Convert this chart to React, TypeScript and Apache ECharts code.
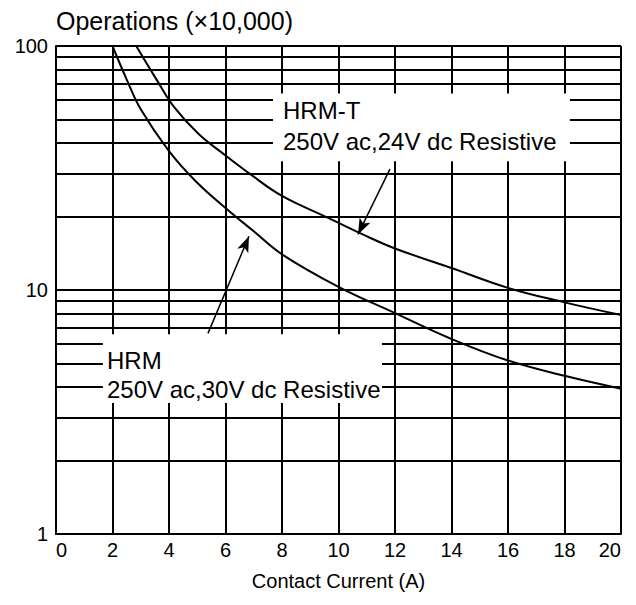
import React, { useEffect, useRef } from "react";
import * as echarts from "echarts";

// Contact current (A) vs. operations (x10,000)
const hrmCurrent = [2.0, 2.5, 3, 4, 5, 6, 7, 8, 10, 12, 14, 16, 18, 20];
const hrmOps = [100, 73, 55, 37.1, 27.5, 21.7, 17.4, 14.0, 10.3, 8.04, 6.3, 5.14, 4.45, 3.94];

const hrmtCurrent = [2.84, 3.56, 4.19, 5.06, 6, 6.85, 8, 9.62, 10.86, 12, 14, 16, 18, 20];
const hrmtOps = [100, 72.8, 56, 43.5, 35.6, 30.0, 24.3, 19.8, 16.9, 14.8, 12.3, 10.2, 8.9, 7.9];

// Log-scale minor grid values
const minorGridOps = [2, 3, 4, 5, 6, 7, 8, 9, 20, 30, 40, 50, 60, 70, 80, 90];

// Label boxes (data coords: [current, ops])
const upperBox = [[7.68, 63.8], [18.19, 33.7]];
const lowerBox = [[1.66, 6.58], [11.54, 3.44]];

// Arrows (tail -> tip)
const upperArrow = [[11.82, 31.3], [10.69, 16.9]];
const lowerArrow = [[5.38, 6.64], [6.83, 16.6]];

const hrmtLabel = ["HRM-T", "250V ac,24V dc Resistive"];
const hrmLabel = ["HRM", "250V ac,30V dc Resistive"];

const FONT = '"Liberation Sans", Arial, sans-serif';

export default function App() {
  const ref = useRef<HTMLDivElement>(null);

  useEffect(() => {
    document.body.style.margin = "0";
    if (!ref.current) return;
    const chart = echarts.init(ref.current, null, { renderer: "svg" });
    const black = "#000";
    const textBase = { fill: black, fontSize: 24, fontFamily: FONT, verticalAlign: "middle" as const };

    chart.setOption({
      animation: false,
      backgroundColor: "#fff",
      title: {
        text: "Operations (×10,000)",
        left: 56,
        top: 8,
        padding: 0,
        textStyle: { fontSize: 25, fontWeight: "normal", color: black, fontFamily: FONT },
      },
      grid: { left: 56, right: 15, top: 46, bottom: 71 },
      xAxis: {
        type: "value",
        min: 0,
        max: 20,
        interval: 2,
        name: "Contact Current (A)",
        nameLocation: "middle",
        nameGap: 37,
        nameTextStyle: { fontSize: 20, color: black, fontFamily: FONT },
        axisLine: { show: true, lineStyle: { color: black, width: 2 } },
        axisTick: { show: false },
        axisLabel: {
          color: black,
          fontSize: 20,
          fontFamily: FONT,
          margin: 6,
          alignMinLabel: "left",
          alignMaxLabel: "right",
        },
        splitLine: { show: true, lineStyle: { color: black, width: 2 } },
      },
      yAxis: {
        type: "log",
        logBase: 10,
        min: 1,
        max: 100,
        axisLine: { show: true, lineStyle: { color: black, width: 2 } },
        axisTick: { show: false },
        axisLabel: { color: black, fontSize: 20, fontFamily: FONT, margin: 8 },
        splitLine: { show: true, lineStyle: { color: black, width: 2 } },
      },
      graphic: [
        { type: "text", z: 100, style: { ...textBase, x: 283, y: 110, text: hrmtLabel[0] } },
        { type: "text", z: 100, style: { ...textBase, x: 283, y: 141, text: hrmtLabel[1] } },
        { type: "text", z: 100, style: { ...textBase, x: 107, y: 360, text: hrmLabel[0] } },
        { type: "text", z: 100, style: { ...textBase, x: 107, y: 389, text: hrmLabel[1] } },
      ],
      series: [
        {
          type: "line",
          name: "grid",
          data: [],
          silent: true,
          markLine: {
            z: 4,
            silent: true,
            symbol: ["none", "none"],
            label: { show: false },
            lineStyle: { color: black, width: 2, type: "solid" },
            data: minorGridOps.map((v) => ({ yAxis: v })),
          },
          markArea: {
            z: 6,
            silent: true,
            itemStyle: { color: "#fff", opacity: 1 },
            label: { show: false },
            data: [
              [{ coord: upperBox[0] }, { coord: upperBox[1] }],
              [{ coord: lowerBox[0] }, { coord: lowerBox[1] }],
            ],
          },
        },
        {
          type: "line",
          name: "HRM",
          z: 8,
          smooth: 0.4,
          showSymbol: false,
          lineStyle: { color: black, width: 2 },
          data: hrmCurrent.map((x, i) => [x, hrmOps[i]]),
          markLine: {
            z: 9,
            silent: true,
            symbol: ["none", "arrow"],
            symbolSize: [9, 16],
            label: { show: false },
            lineStyle: { color: black, width: 1.5, type: "solid" },
            data: [
              [{ coord: upperArrow[0] }, { coord: upperArrow[1] }],
              [{ coord: lowerArrow[0] }, { coord: lowerArrow[1] }],
            ],
          },
        },
        {
          type: "line",
          name: "HRM-T",
          z: 8,
          smooth: 0.4,
          showSymbol: false,
          lineStyle: { color: black, width: 2 },
          data: hrmtCurrent.map((x, i) => [x, hrmtOps[i]]),
        },
      ],
    });

    return () => chart.dispose();
  }, []);

  return <div ref={ref} style={{ width: 636, height: 605 }} />;
}
